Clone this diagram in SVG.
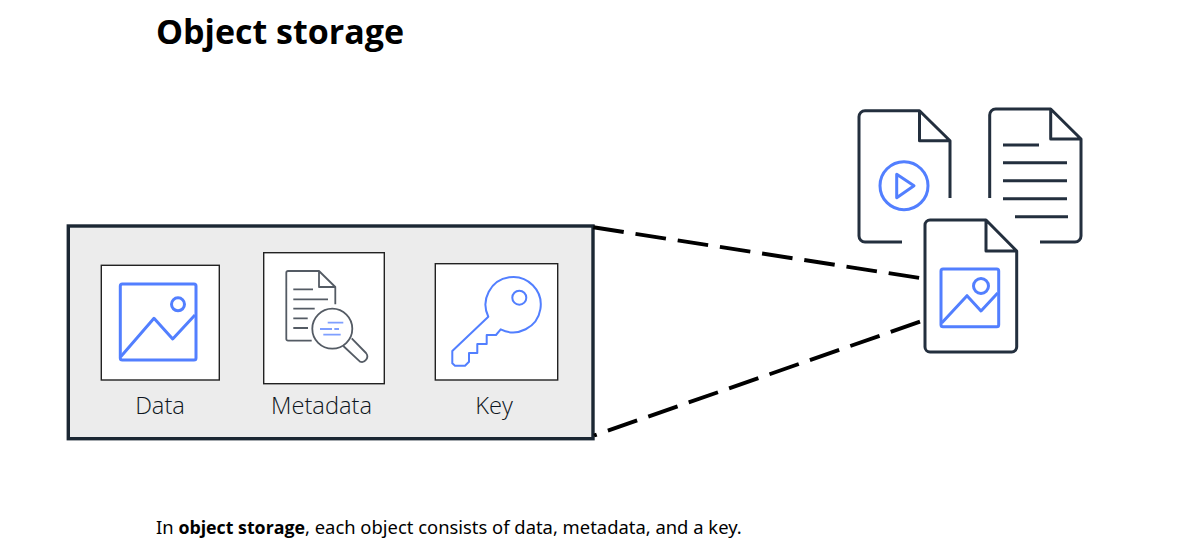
<svg xmlns="http://www.w3.org/2000/svg" width="1185" height="556" viewBox="0 0 1185 556">
<style>
text{font-family:"Noto Sans","Open Sans","Liberation Sans",sans-serif}
.title{font-family:"Open Sans","Noto Sans",sans-serif;font-size:34px;font-weight:700;fill:#000}
.cap{font-size:18.4px;fill:#000}
.capb{font-family:"Open Sans","Noto Sans",sans-serif;font-size:17.8px;font-weight:700}
.lab{font-family:"Open Sans","Noto Sans",sans-serif;font-size:23.7px;font-weight:300;fill:#0d1520;text-anchor:middle}
.box{fill:#fff;stroke:#222;stroke-width:1.4}
.dk{fill:none;stroke:#232f3e;stroke-width:3;stroke-linejoin:round;stroke-linecap:butt}
.bl{fill:none;stroke:#527fff;stroke-width:3;stroke-linejoin:round}
.md{fill:none;stroke:#545b64;stroke-width:1.8;stroke-linejoin:round}
.mb{fill:none;stroke:#7f9fff;stroke-width:1.8}
.dash{fill:none;stroke:#000;stroke-width:3.9}
</style>
<rect width="1185" height="556" fill="#fff"/>
<g id="title"><text class="title" x="156" y="44">Object storage</text></g>
<g id="caption"><text class="cap" x="156" y="534">In <tspan class="capb">object storage</tspan>, each object consists of data, metadata, and a key.</text></g>
<g id="object"><rect x="68.3" y="226" width="524.7" height="212.7" fill="#ececec" stroke="#1b2733" stroke-width="3.4"/></g>
<g id="connectors">
<path class="dash" stroke-dasharray="30.8 11.9" d="M593.3 227.3L920 278"/>
<path class="dash" stroke-dasharray="31 11.8" d="M920 321.7L594 435.5"/>
</g>
<g id="data">
<rect class="box" x="101.3" y="265.3" width="118" height="114.7"/>
<rect class="bl" x="120.3" y="284" width="75.7" height="76" rx="2"/>
<circle class="bl" cx="178" cy="304.3" r="6.5"/>
<path class="bl" d="M120.7 356.7L154 318.3L172.7 339L195 315"/>
<text class="lab" x="160" y="414">Data</text>
</g>
<g id="metadata">
<rect class="box" x="263.7" y="252.7" width="120.6" height="131"/>
<path class="md" d="M335.3 304.3V287L319 271H288a1.7 1.7 0 0 0-1.7 1.7V339a1.7 1.7 0 0 0 1.7 1.7H311.7M319 271V287H335.3"/>
<path class="md" d="M293.3 289.3H313M293.3 299.3H328M293.3 308.7H314.7M293.3 318.3H307.7M293.3 328H308"/>
<circle class="md" cx="332.3" cy="328.7" r="20"/>
<path class="md" d="M351.7 338.3L366 353a5.5 5.5 0 0 1-6 8.7L343.3 346"/>
<path class="mb" d="M327.7 322.7H343.3M320 329H332M334.3 329H339M323.3 334.7H340.7"/>
<text class="lab" x="321.5" y="414">Metadata</text>
</g>
<g id="key">
<rect class="box" x="435.3" y="263.7" width="122.4" height="116.3"/>
<path fill="none" stroke="#527fff" stroke-width="2" stroke-linejoin="round" d="M488.3 316.7L452.3 351V363.3L455 365.7H465L469 361.7V353H477.3V344H486.7V335H496L500.7 329.3A27.6 27.6 0 1 0 488.3 316.7Z"/>
<circle fill="none" stroke="#527fff" stroke-width="2" cx="519.3" cy="297.7" r="7"/>
<text class="lab" x="494" y="414">Key</text>
</g>
<g id="video-file">
<path class="dk" d="M950 198V140.7L919.5 110.7H865a6 6 0 0 0-6 6V236a6 6 0 0 0 6 6H902M919.5 110.7V140.7H950"/>
<circle class="bl" cx="904" cy="185.7" r="24"/>
<path class="bl" d="M896.7 174.3L914 185.7L896.7 197.7Z"/>
</g>
<g id="text-file">
<path class="dk" d="M989.7 198V115a6 6 0 0 1 6-6H1050.7L1081 139V236a6 6 0 0 1-6 6H1040M1050.7 109V139H1081"/>
<path class="dk" d="M1003 145H1039M1003 162.7H1067M1003 180.7H1067M1003 198.7H1067M1015 216.7H1068"/>
</g>
<g id="image-file">
<path class="dk" d="M986 220L1016.7 251V347a5 5 0 0 1-5 5H930a5 5 0 0 1-5-5V225a5 5 0 0 1 5-5ZM986 220V251H1016.7"/>
<rect class="bl" x="941" y="269" width="57.7" height="57.7" rx="2"/>
<circle class="bl" cx="981" cy="286" r="7.5"/>
<path class="bl" d="M941.7 323L967 295.7L981 311L997.7 293"/>
</g>
</svg>
